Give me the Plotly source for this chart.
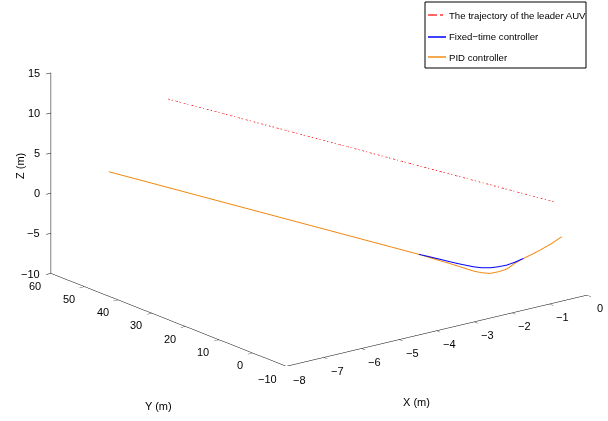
import plotly.graph_objects as go

# Leader AUV trajectory (straight line)
leader_x = [0.0, -5.45]
leader_y = [0.0, 54.5]
leader_z = [0.0, 9.92]

# Fixed-time controller follower trajectory
ft_x = [0.0, -0.204, -0.458, -0.625, -0.795, -0.959, -1.122, -1.279, -1.433, -1.578,
        -1.726, -1.867, -2.007, -2.142, -2.274, -2.44, -2.6, -6.95]
ft_y = [-2.5, -1.85, -1.2, -0.6, 0.0, 0.65, 1.3, 2.05, 2.8, 3.65,
        4.5, 5.4, 6.3, 7.3, 8.3, 9.6, 11.0, 54.5]
ft_z = [-3.95, -4.66, -5.32, -5.775, -6.19, -6.574, -6.875, -7.04, -7.116, -7.10,
        -6.95, -6.73, -6.51, -6.275, -6.04, -5.75, -5.5, 2.42]

# PID controller follower trajectory
pid_x = [0.0, -0.204, -0.458, -0.625, -0.795, -0.959, -1.122, -1.279, -1.433, -1.578,
         -1.726, -1.867, -2.007, -2.142, -2.274, -2.44, -2.6, -6.95]
pid_y = [-2.5, -1.85, -1.2, -0.6, 0.0, 0.65, 1.3, 2.05, 2.8, 3.65,
         4.5, 5.4, 6.3, 7.3, 8.3, 9.6, 11.0, 54.5]
pid_z = [-3.95, -4.66, -5.32, -5.775, -6.19, -6.70, -7.375, -7.66, -7.82, -7.72,
         -7.485, -7.14, -6.81, -6.49, -6.22, -5.85, -5.5, 2.42]

x_ticks = [-8, -7, -6, -5, -4, -3, -2, -1, 0]
y_ticks = [-10, 0, 10, 20, 30, 40, 50, 60]
z_ticks = [-10, -5, 0, 5, 10, 15]

series_names = ["The trajectory of the leader AUV", "Fixed\u2212time controller", "PID controller"]
series_colors = ["rgba(255,0,0,0.8)", "#0000ff", "rgb(240,140,20)"]
series_dash = ["dashdot", "solid", "solid"]

font_family = "Liberation Sans, Arial, sans-serif"


def lab(v):
    return str(v).replace("-", "\u2212")


fig = go.Figure()
fig.add_trace(go.Scatter3d(x=leader_x, y=leader_y, z=leader_z, mode="lines",
                           line=dict(color=series_colors[0], width=1.5, dash=series_dash[0]),
                           name=series_names[0], showlegend=False))
fig.add_trace(go.Scatter3d(x=ft_x, y=ft_y, z=ft_z, mode="lines",
                           line=dict(color=series_colors[1], width=2),
                           name=series_names[1], showlegend=False))
fig.add_trace(go.Scatter3d(x=pid_x, y=pid_y, z=pid_z, mode="lines",
                           line=dict(color=series_colors[2], width=2),
                           name=series_names[2], showlegend=False))

axis_common = dict(showgrid=False, showbackground=False, showline=True, linecolor="black",
                   linewidth=1, ticks="inside", tickcolor="black", ticklen=6, zeroline=False,
                   showspikes=False, title=dict(text=""), showticklabels=False)

tick_font = dict(family=font_family, size=11, color="black")
scene_ann = []
for v in x_ticks:
    scene_ann.append(dict(x=v, y=-10, z=-10, text=lab(v), showarrow=False,
                          xshift=13, yshift=-13, font=tick_font))
for v in y_ticks:
    scene_ann.append(dict(x=-8, y=v, z=-10, text=lab(v), showarrow=False, xanchor="right",
                          xshift=-8, yshift=-12, font=tick_font))
for v in z_ticks:
    scene_ann.append(dict(x=-8, y=60, z=v, text=lab(v), showarrow=False, xanchor="right",
                          xshift=-9, yshift=0, font=tick_font))

# legend (drawn in paper space)
W, H = 608, 421
leg_rows = [15, 37, 57]
shapes = [dict(type="rect", xref="paper", yref="paper", x0=425 / W, x1=586 / W,
               y0=1 - 68 / H, y1=1 - 2 / H, line=dict(color="black", width=1),
               fillcolor="white", layer="above")]
annotations = []
for name, col, dash, py in zip(series_names, series_colors, series_dash, leg_rows):
    shapes.append(dict(type="line", xref="paper", yref="paper", x0=428 / W, x1=446 / W,
                       y0=1 - py / H, y1=1 - py / H,
                       line=dict(color=col, width=1.3 if dash == "dashdot" else 1.5,
                                 dash=dash)))
    annotations.append(dict(text=name, x=447 / W, y=1 - py / H, xref="paper", yref="paper",
                            xanchor="left", yanchor="middle", showarrow=False,
                            font=dict(family=font_family, size=9.6, color="black")))

annotations += [
    dict(text="X (m)", x=416 / W, y=1 - 402 / H, xref="paper", yref="paper",
         xanchor="center", yanchor="middle", showarrow=False, font=dict(size=11)),
    dict(text="Y (m)", x=158 / W, y=1 - 406 / H, xref="paper", yref="paper",
         xanchor="center", yanchor="middle", showarrow=False, font=dict(size=11)),
    dict(text="Z (m)", x=20 / W, y=1 - 166 / H, xref="paper", yref="paper",
         xanchor="center", yanchor="middle", showarrow=False, textangle=-90,
         font=dict(size=11)),
]

s = 2.09
fig.update_layout(
    width=W, height=H,
    margin=dict(l=0, r=0, t=0, b=0),
    paper_bgcolor="white",
    font=dict(family=font_family, size=11, color="black"),
    scene=dict(
        domain=dict(x=[0.05, 1.0], y=[0.13, 0.995]),
        xaxis=dict(range=[-8, 0], tickvals=x_ticks, **axis_common),
        yaxis=dict(range=[-10, 60], tickvals=y_ticks, **axis_common),
        zaxis=dict(range=[-10, 15], tickvals=z_ticks, **axis_common),
        aspectmode="manual",
        aspectratio=dict(x=1.0 * s, y=1.011 * s, z=0.5536 * s),
        camera=dict(projection=dict(type="orthographic"),
                    eye=dict(x=-1.749, y=-2.259, z=0.917),
                    up=dict(x=0, y=0, z=1), center=dict(x=0, y=0, z=0)),
        annotations=scene_ann,
    ),
    showlegend=False,
    shapes=shapes,
    annotations=annotations,
)

fig.write_html("out.html")
